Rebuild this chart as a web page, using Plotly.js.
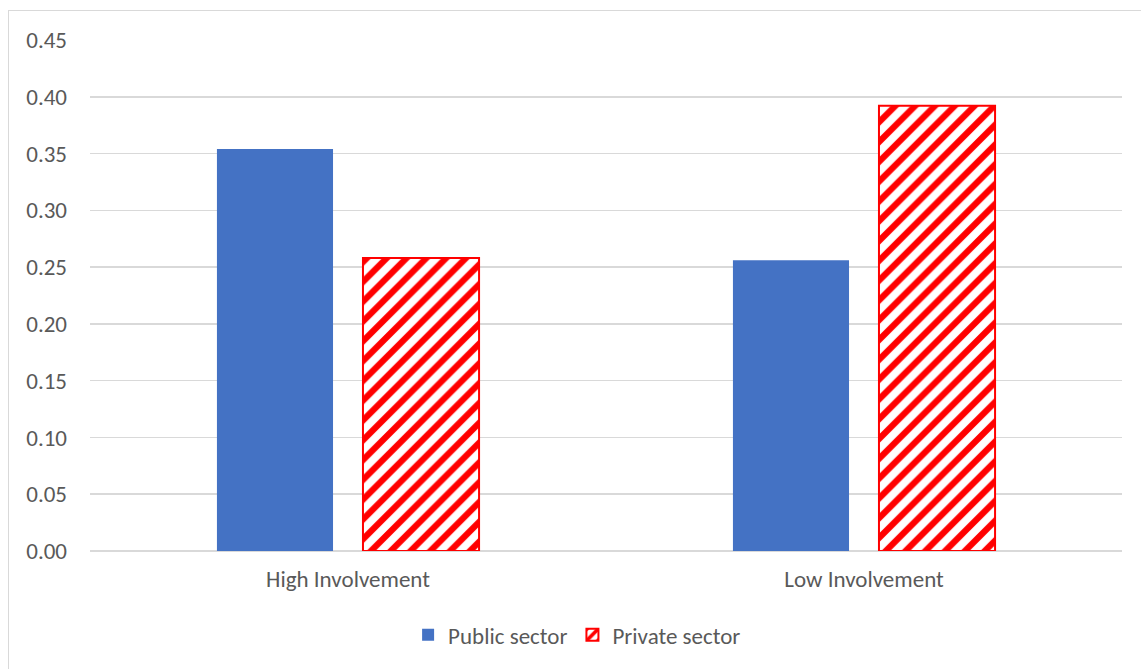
<!DOCTYPE html>
<html>
<head>
<meta charset="utf-8">
<script src="https://cdn.plot.ly/plotly-3.0.1.min.js"></script>
<style>
html,body{margin:0;padding:0;background:#fff;}
#frame{position:absolute;left:8px;top:10px;width:1133px;height:659px;border-left:1.5px solid #d9d9d9;border-top:1.5px solid #d9d9d9;box-sizing:border-box;}
#chart{position:absolute;left:0;top:0;width:1141px;height:669px;}
</style>
</head>
<body>
<div id="frame"></div>
<div id="chart"></div>
<script>
const categories = ["High Involvement", "Low Involvement"];
const publicSector = [0.354, 0.256];
const privateSector = [0.258, 0.392];
const seriesNames = ["Public sector", "Private sector"];
const tickVals = [0, 0.05, 0.10, 0.15, 0.20, 0.25, 0.30, 0.35, 0.40, 0.45];

const font = "Calibri, Carlito, 'Open Sans', sans-serif";

const traces = [
  {
    type: "bar",
    name: seriesNames[0],
    x: categories,
    y: publicSector,
    marker: {color: "#4472c4", line: {width: 0}}
  },
  {
    type: "bar",
    name: seriesNames[1],
    x: categories,
    y: privateSector,
    marker: {
      color: "#ffffff",
      line: {color: "#ff0000", width: 2},
      pattern: {shape: "/", fgcolor: "#ff0000", bgcolor: "#ffffff", size: 14, solidity: 0.45}
    }
  }
];

const layout = {
  width: 1141,
  height: 669,
  margin: {l: 90, r: 19, t: 40, b: 118},
  paper_bgcolor: "rgba(0,0,0,0)",
  plot_bgcolor: "rgba(0,0,0,0)",
  barmode: "group",
  bargap: 0.434,
  bargroupgap: 0.205,
  font: {family: font, size: 23, color: "#595959"},
  xaxis: {
    showgrid: false,
    showline: false,
    zeroline: false,
    ticks: "",
    ticklabelstandoff: 12,
    automargin: false,
    tickfont: {size: 23, color: "#595959"}
  },
  yaxis: {
    range: [0, 0.45],
    tickvals: tickVals,
    tickformat: ".2f",
    showgrid: true,
    gridcolor: "#d9d9d9",
    gridwidth: 1.5,
    zeroline: true,
    zerolinecolor: "#d9d9d9",
    zerolinewidth: 1.5,
    showline: false,
    ticks: "",
    automargin: false,
    ticklabelstandoff: 22,
    tickfont: {size: 23, color: "#595959"}
  },
  legend: {
    orientation: "h",
    x: 0.472,
    xanchor: "center",
    y: -0.164,
    yanchor: "middle",
    font: {size: 23, color: "#595959"},
    itemwidth: 30,
    traceorder: "normal"
  },
  showlegend: true
};

Plotly.newPlot("chart", traces, layout, {displayModeBar: false, staticPlot: true});
</script>
</body>
</html>
